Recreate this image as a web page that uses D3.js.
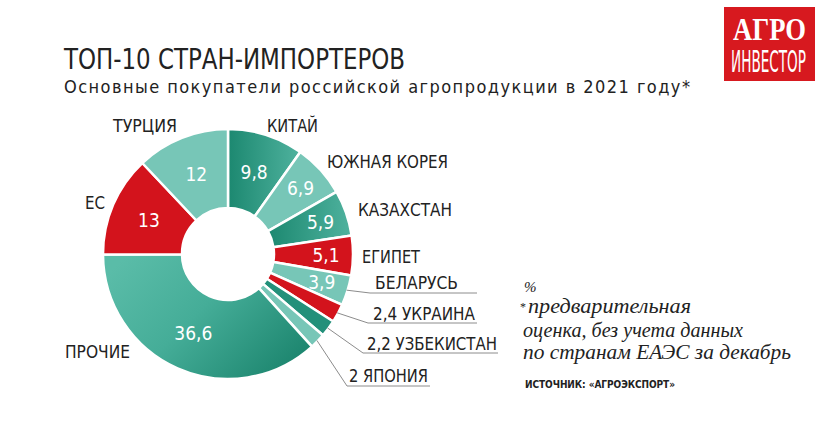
<!DOCTYPE html>
<html>
<head>
<meta charset="utf-8">
<script src="https://cdn.jsdelivr.net/npm/d3@7"></script>
<style>
  body { margin: 0; background: #fff; }
  svg text { font-family: "Liberation Sans Narrow", "DejaVu Sans Condensed", Roboto, sans-serif; }
</style>
</head>
<body>
<script>
// Top-10 importers of Russian agricultural products, 2021 (%)
const countries = ["Китай", "Южная Корея", "Казахстан", "Египет", "Беларусь", "Украина", "Узбекистан", "Япония", "Прочие", "ЕС", "Турция"];
const shares = [9.8, 6.9, 5.9, 5.1, 3.9, 2.4, 2.2, 2, 36.6, 13, 12];

const width = 822, height = 423;
const cx = 228, cy = 254;
const outerR = 125, innerR = 46;

const fillOf = {
  "Китай": "url(#gDark)", "Южная Корея": "#77c6b7", "Казахстан": "url(#gDark)",
  "Египет": "#d3131c", "Беларусь": "#77c6b7", "Украина": "#d3131c",
  "Узбекистан": "#23907a", "Япония": "#77c6b7", "Прочие": "url(#gMid)",
  "ЕС": "#d3131c", "Турция": "#77c6b7"
};

// label placement (layout only)
const plainLabels = {
  "Турция": { x: 113, y: 132, w: 64 },
  "Китай": { x: 267, y: 132, w: 51 },
  "Южная Корея": { x: 327, y: 168, w: 121 },
  "Казахстан": { x: 358, y: 216, w: 94 },
  "Египет": { x: 362, y: 263, w: 58 },
  "ЕС": { x: 85, y: 209, w: 20 },
  "Прочие": { x: 65, y: 358, w: 65 }
};
const lineLabels = {
  "Беларусь": { x: 375, y: 289, w: 83, ux: 370, ue: 477, uy: 293 },
  "Украина": { x: 373, y: 320, w: 102, ux: 368, ue: 477, uy: 323 },
  "Узбекистан": { x: 367, y: 350, w: 130, ux: 363, ue: 498, uy: 353 },
  "Япония": { x: 349, y: 382, w: 79, ux: 347, ue: 430, uy: 386 }
};

const fmt = v => String(v).replace(".", ",");
const data = countries.map((c, i) => ({ name: c, value: shares[i] }));

const svg = d3.select("body")
  .append("svg")
  .attr("width", width)
  .attr("height", height);

const defs = svg.append("defs");
const gDark = defs.append("linearGradient").attr("id", "gDark")
  .attr("x1", 0).attr("y1", 0.5).attr("x2", 1).attr("y2", 0.5);
gDark.append("stop").attr("offset", 0).attr("stop-color", "#1c8870");
gDark.append("stop").attr("offset", 1).attr("stop-color", "#4fb29e");
const gMid = defs.append("linearGradient").attr("id", "gMid")
  .attr("x1", 0).attr("y1", 0.2).attr("x2", 1).attr("y2", 0.8);
gMid.append("stop").attr("offset", 0).attr("stop-color", "#5abca8");
gMid.append("stop").attr("offset", 0.45).attr("stop-color", "#45ad98");
gMid.append("stop").attr("offset", 1).attr("stop-color", "#1b846d");

// title
svg.append("text")
  .attr("x", 64).attr("y", 69)
  .attr("font-size", 28)
  .attr("fill", "#222")
  .attr("textLength", 341).attr("lengthAdjust", "spacingAndGlyphs")
  .text("ТОП-10 СТРАН-ИМПОРТЕРОВ");
svg.append("text")
  .attr("x", 64).attr("y", 93)
  .attr("font-size", 18)
  .attr("fill", "#222")
  .attr("textLength", 626).attr("lengthAdjust", "spacing")
  .text("Основные покупатели российской агропродукции в 2021 году*");

// donut
const pie = d3.pie().sort(null).value(d => d.value);
const arc = d3.arc().innerRadius(innerR).outerRadius(outerR);
const arcs = pie(data);

const g = svg.append("g").attr("transform", `translate(${cx},${cy})`);
g.selectAll("path")
  .data(arcs)
  .enter()
  .append("path")
  .attr("d", arc)
  .attr("fill", d => fillOf[d.data.name])
  .attr("stroke", "#fff")
  .attr("stroke-width", 2.5)
  .attr("stroke-linejoin", "round");

// values inside slices
g.selectAll("text.val")
  .data(arcs.filter(d => lineLabels[d.data.name] === undefined || d.data.name === "Беларусь"))
  .enter()
  .append("text")
  .attr("class", "val")
  .attr("transform", d => {
    const r = d.data.value > 8 ? 86 : 98;
    const a = (d.startAngle + d.endAngle) / 2;
    return `translate(${Math.sin(a) * r},${-Math.cos(a) * r})`;
  })
  .attr("dy", "0.36em")
  .attr("text-anchor", "middle")
  .attr("font-size", 19)
  .attr("fill", "#fff")
  .text(d => fmt(d.data.value));

// plain outer labels
Object.keys(plainLabels).forEach(name => {
  const p = plainLabels[name];
  svg.append("text")
    .attr("x", p.x).attr("y", p.y)
    .attr("font-size", 18)
    .attr("fill", "#222")
    .attr("textLength", p.w).attr("lengthAdjust", "spacingAndGlyphs")
    .text(name.toUpperCase());
});

// leader-line labels
arcs.filter(d => lineLabels[d.data.name]).forEach(d => {
  const p = lineLabels[d.data.name];
  const a = (d.startAngle + d.endAngle) / 2;
  const sx = cx + Math.sin(a) * (outerR - 1), sy = cy - Math.cos(a) * (outerR - 1);
  svg.append("polyline")
    .attr("points", `${sx},${sy} ${p.ux},${p.uy} ${p.ue},${p.uy}`)
    .attr("fill", "none")
    .attr("stroke", "#8c8c8c")
    .attr("stroke-width", 1);
  const label = d.data.name === "Беларусь"
    ? d.data.name.toUpperCase()
    : fmt(d.data.value) + " " + d.data.name.toUpperCase();
  svg.append("text")
    .attr("x", p.x).attr("y", p.y)
    .attr("font-size", 18)
    .attr("fill", "#222")
    .attr("textLength", p.w).attr("lengthAdjust", "spacingAndGlyphs")
    .text(label);
});

// notes
const serif = '"Liberation Serif", "DejaVu Serif", serif';
svg.append("text")
  .attr("x", 524).attr("y", 292)
  .style("font-family", serif).style("font-style", "italic")
  .attr("font-size", 15).attr("fill", "#222")
  .text("%");
svg.append("text")
  .attr("x", 520).attr("y", 311)
  .style("font-family", serif)
  .attr("font-size", 12).attr("fill", "#222")
  .text("*");
const noteLines = [
  { t: "предварительная", x: 528, y: 313, w: 163 },
  { t: "оценка, без учета данных", x: 523, y: 337, w: 220 },
  { t: "по странам ЕАЭС за декабрь", x: 523, y: 359, w: 268 }
];
noteLines.forEach(l => {
  svg.append("text")
    .attr("x", l.x).attr("y", l.y)
    .style("font-family", serif).style("font-style", "italic")
    .attr("font-size", 21).attr("fill", "#222")
    .attr("textLength", l.w).attr("lengthAdjust", "spacingAndGlyphs")
    .text(l.t);
});
svg.append("text")
  .attr("x", 525).attr("y", 388)
  .attr("font-size", 10).attr("font-weight", "bold")
  .attr("fill", "#222")
  .attr("textLength", 150).attr("lengthAdjust", "spacing")
  .text("ИСТОЧНИК: «АГРОЭКСПОРТ»");

// logo
svg.append("rect")
  .attr("x", 724).attr("y", 7)
  .attr("width", 91).attr("height", 74)
  .attr("fill", "#d7191f");
svg.append("text")
  .attr("x", 733).attr("y", 40)
  .style("font-family", serif).attr("font-weight", "bold")
  .attr("font-size", 31).attr("fill", "#fff")
  .attr("textLength", 73).attr("lengthAdjust", "spacingAndGlyphs")
  .text("АГРО");
svg.append("text")
  .attr("x", 731).attr("y", 72)
  .attr("font-size", 30).attr("fill", "#fff")
  .attr("textLength", 75).attr("lengthAdjust", "spacingAndGlyphs")
  .text("ИНВЕСТОР");
</script>
</body>
</html>
